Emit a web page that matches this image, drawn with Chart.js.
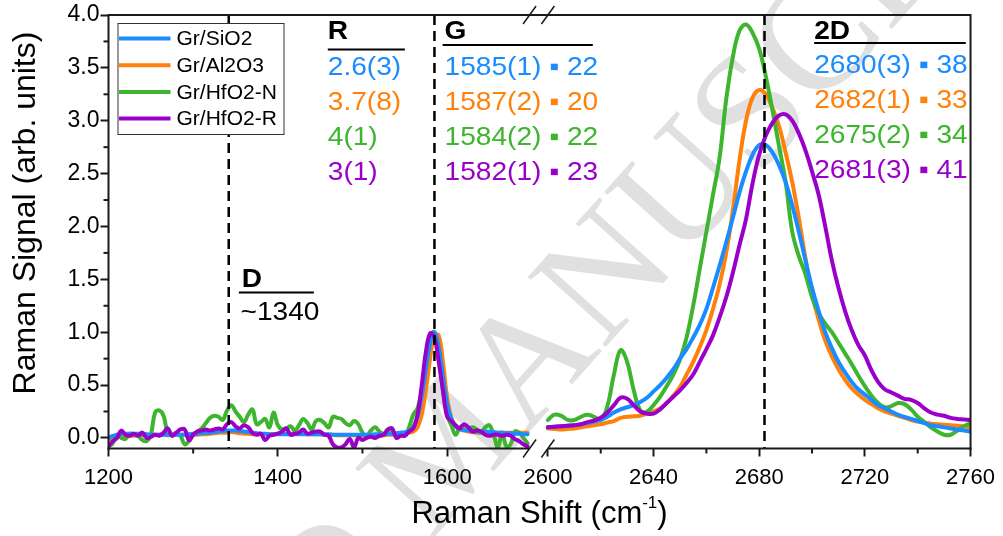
<!DOCTYPE html>
<html>
<head>
<meta charset="utf-8">
<title>Raman spectra of graphene on oxides</title>
<script src="https://cdn.jsdelivr.net/npm/chart.js@4.4.1/dist/chart.umd.min.js"></script>
<style>
  html, body { margin: 0; padding: 0; background: #fff; }
  canvas { display: block; }
</style>
</head>
<body>
<canvas id="ramanChart" width="1003" height="536"></canvas>
<script>
// Raman shift grids (cm-1) of the two windows of the broken axis
var lowShift = [
    1200, 1205, 1210, 1215, 1220, 1225, 1230, 1235, 1240, 1245,
    1250, 1255, 1260, 1265, 1270, 1275, 1280, 1285, 1290, 1295,
    1300, 1305, 1310, 1315, 1320, 1325, 1330, 1335, 1340, 1345,
    1350, 1355, 1360, 1365, 1370, 1375, 1380, 1385, 1390, 1395,
    1400, 1405, 1410, 1415, 1420, 1425, 1430, 1435, 1440, 1445,
    1450, 1455, 1460, 1465, 1470, 1475, 1480, 1485, 1490, 1495,
    1500, 1505, 1510, 1515, 1520, 1525, 1530, 1535, 1540, 1545,
    1550, 1555, 1560, 1565, 1570, 1575, 1580, 1585, 1590, 1595,
    1600, 1605, 1610, 1615, 1620, 1625, 1630, 1635, 1640, 1645,
    1650, 1655, 1660, 1665, 1670, 1675, 1680, 1685, 1690, 1695
];
var highShift = [
    2600, 2602.5, 2605, 2607.5, 2610, 2612.5, 2615, 2617.5, 2620, 2622.5,
    2625, 2627.5, 2630, 2632.5, 2635, 2637.5, 2640, 2642.5, 2645, 2647.5,
    2650, 2652.5, 2655, 2657.5, 2660, 2662.5, 2665, 2667.5, 2670, 2672.5,
    2675, 2677.5, 2680, 2682.5, 2685, 2687.5, 2690, 2692.5, 2695, 2697.5,
    2700, 2702.5, 2705, 2707.5, 2710, 2712.5, 2715, 2717.5, 2720, 2722.5,
    2725, 2727.5, 2730, 2732.5, 2735, 2737.5, 2740, 2742.5, 2745, 2747.5,
    2750, 2752.5, 2755, 2757.5, 2760
];

var sampleNames = ['Gr/SiO2', 'Gr/Al2O3', 'Gr/HfO2-N', 'Gr/HfO2-R'];
var sampleColors = ['#1a8cff', '#ff800a', '#3db52f', '#9a00c9'];

// signal normalised to the G band, D/G window
var sio2Low = [
    0.00, 0.02, 0.03, 0.04, 0.04, 0.04, 0.04, 0.04, 0.04, 0.035,
    0.03, 0.03, 0.03, 0.03, 0.03, 0.03, 0.03, 0.03, 0.03, 0.035,
    0.04, 0.04, 0.045, 0.05, 0.05, 0.055, 0.06, 0.065, 0.07, 0.07,
    0.07, 0.065, 0.06, 0.055, 0.05, 0.045, 0.04, 0.04, 0.035, 0.035,
    0.035, 0.035, 0.035, 0.035, 0.035, 0.035, 0.035, 0.035, 0.035, 0.035,
    0.035, 0.035, 0.035, 0.03, 0.03, 0.03, 0.03, 0.03, 0.03, 0.03,
    0.03, 0.03, 0.03, 0.035, 0.035, 0.035, 0.04, 0.04, 0.045, 0.05,
    0.055, 0.065, 0.1, 0.2, 0.4, 0.66, 0.9, 1.0, 0.86, 0.58,
    0.32, 0.18, 0.11, 0.085, 0.075, 0.07, 0.065, 0.06, 0.06, 0.06,
    0.055, 0.055, 0.05, 0.05, 0.045, 0.045, 0.04, 0.04, 0.035, 0.035
];
var al2o3Low = [
    -0.01, 0.0, 0.01, 0.02, 0.02, 0.02, 0.02, 0.025, 0.025, 0.03,
    0.03, 0.03, 0.03, 0.03, 0.025, 0.025, 0.03, 0.03, 0.03, 0.03,
    0.03, 0.03, 0.035, 0.035, 0.04, 0.045, 0.05, 0.05, 0.05, 0.055,
    0.05, 0.045, 0.04, 0.04, 0.035, 0.035, 0.035, 0.035, 0.035, 0.035,
    0.04, 0.04, 0.04, 0.04, 0.04, 0.04, 0.04, 0.035, 0.035, 0.035,
    0.035, 0.03, 0.03, 0.03, 0.025, 0.025, 0.025, 0.025, 0.025, 0.02,
    0.02, 0.02, 0.02, 0.02, 0.02, 0.025, 0.03, 0.03, 0.035, 0.04,
    0.045, 0.05, 0.06, 0.1, 0.22, 0.46, 0.76, 0.97, 0.97, 0.72,
    0.38, 0.19, 0.11, 0.08, 0.07, 0.06, 0.055, 0.05, 0.05, 0.05,
    0.05, 0.05, 0.05, 0.05, 0.05, 0.05, 0.05, 0.05, 0.05, 0.05
];
var hfo2nLow = [
    -0.08, -0.05, 0.03, 0.0, -0.01, 0.04, 0.03, 0.02, -0.02, -0.03,
    0.03, 0.24, 0.26, 0.21, 0.05, 0.03, 0.05, 0.02, -0.06, -0.03,
    0.03, 0.06, 0.09, 0.14, 0.19, 0.21, 0.2, 0.17, 0.26, 0.31,
    0.25, 0.2, 0.15, 0.22, 0.27, 0.13, 0.15, 0.18, 0.1, 0.24,
    0.12, 0.08, 0.09, 0.11, 0.07, 0.12, 0.18, 0.14, 0.08, 0.16,
    0.17, 0.14, 0.1, 0.2, 0.19, 0.18, 0.14, 0.12, 0.16, 0.13,
    0.05, 0.02, 0.07, 0.1, 0.06, 0.04, 0.06, 0.05, 0.03, 0.05,
    0.02, 0.1, 0.22, 0.28, 0.45, 0.75, 0.96, 1.0, 0.8, 0.45,
    0.22, 0.12, 0.03, 0.1, 0.12, 0.09, 0.1, 0.08, 0.05, 0.1,
    0.12, 0.03, -0.09, 0.05, -0.08, -0.06, 0.06, 0.05, 0.0, -0.05
];
var hfo2rLow = [
    -0.08, -0.03, 0.0, 0.07, 0.03, 0.02, 0.04, 0.02, 0.05, 0.0,
    0.01, 0.03, 0.02, 0.05, 0.09, 0.02, 0.05, 0.08, 0.08, -0.02,
    0.03, 0.06, 0.07, 0.08, 0.07, 0.08, 0.09, 0.08, 0.13, 0.15,
    0.11, 0.09, 0.12, 0.1, 0.05, 0.03, 0.04, -0.02, 0.02, 0.03,
    0.04, 0.06, 0.09, 0.03, 0.04, 0.05, 0.08, 0.04, 0.05, 0.06,
    0.06, 0.03, 0.02, -0.06, -0.09, -0.09, -0.06, -0.01, -0.09, 0.0,
    -0.02, 0.0, 0.01, 0.0, 0.02, 0.03, 0.08, 0.09, 0.0, 0.02,
    0.02, 0.06, 0.09, 0.22, 0.5, 0.82, 0.99, 0.95, 0.72, 0.45,
    0.2, 0.16, 0.12, 0.09, 0.13, 0.1, 0.06, 0.07, 0.06, 0.03,
    0.02, 0.03, 0.03, 0.02, 0.03, 0.02, -0.01, -0.03, -0.06, -0.08
];

// 2D window
var sio2High = [
    0.10, 0.105, 0.11, 0.115, 0.12, 0.13, 0.14, 0.155, 0.17, 0.2,
    0.24, 0.27, 0.29, 0.31, 0.34, 0.38, 0.44, 0.5, 0.57, 0.65,
    0.75, 0.84, 0.95, 1.07, 1.22, 1.42, 1.63, 1.85, 2.08, 2.32,
    2.52, 2.68, 2.77, 2.77, 2.7, 2.58, 2.42, 2.2, 1.95, 1.68,
    1.42, 1.2, 1.0, 0.85, 0.72, 0.62, 0.53, 0.46, 0.41, 0.36,
    0.31, 0.28, 0.25, 0.22, 0.2, 0.18, 0.16, 0.14, 0.12, 0.11,
    0.1, 0.09, 0.08, 0.07, 0.06
];
var al2o3High = [
    0.09, 0.085, 0.08, 0.085, 0.09, 0.1, 0.11, 0.12, 0.13, 0.145,
    0.16, 0.19, 0.2, 0.205, 0.21, 0.23, 0.25, 0.28, 0.33, 0.4,
    0.48, 0.6, 0.72, 0.86, 1.02, 1.22, 1.45, 1.75, 2.15, 2.62,
    3.0, 3.22, 3.29, 3.25, 3.12, 2.95, 2.7, 2.42, 2.08, 1.7,
    1.36, 1.12, 0.92, 0.77, 0.65, 0.55, 0.47, 0.41, 0.36, 0.32,
    0.28, 0.25, 0.23, 0.21, 0.19, 0.17, 0.155, 0.145, 0.135, 0.13,
    0.125, 0.12, 0.115, 0.11, 0.10
];
var hfo2nHigh = [
    0.17, 0.22, 0.21, 0.17, 0.17, 0.2, 0.22, 0.2, 0.17, 0.3,
    0.6, 0.83, 0.72, 0.45, 0.26, 0.25, 0.31, 0.39, 0.49, 0.6,
    0.74, 0.95, 1.25, 1.6, 1.95, 2.3, 2.65, 3.2, 3.6, 3.85,
    3.91, 3.83, 3.68, 3.42, 3.1, 2.76, 2.42, 1.95, 1.72, 1.55,
    1.33, 1.18, 1.08, 1.0, 0.9, 0.8, 0.7, 0.59, 0.49, 0.4,
    0.33, 0.29, 0.3, 0.33, 0.32, 0.27, 0.2, 0.15, 0.1, 0.06,
    0.03, 0.03, 0.07, 0.11, 0.14
];
var hfo2rHigh = [
    0.10, 0.105, 0.11, 0.115, 0.12, 0.13, 0.15, 0.165, 0.19, 0.24,
    0.31, 0.38, 0.37, 0.31, 0.25, 0.23, 0.23, 0.27, 0.33, 0.39,
    0.45, 0.52, 0.6, 0.72, 0.84, 0.97, 1.14, 1.33, 1.56, 1.82,
    2.07, 2.41, 2.68, 2.86, 2.98, 3.05, 3.06, 3.0, 2.88, 2.72,
    2.52, 2.3, 2.0, 1.68, 1.42, 1.2, 1.02, 0.88, 0.78, 0.64,
    0.53, 0.46, 0.43, 0.4, 0.37, 0.36, 0.33, 0.28, 0.24, 0.22,
    0.21, 0.19, 0.18, 0.175, 0.17
];

// fit results printed beside the bands
var ratioValue = ['2.6', '3.7', '4', '3'];
var ratioError = [3, 8, 1, 1];
var gPos = [1585, 1587, 1584, 1582];
var gErr = [1, 2, 2, 1];
var gFwhm = [22, 20, 22, 23];
var twoDPos = [2680, 2682, 2675, 2681];
var twoDErr = [3, 1, 2, 3];
var twoDFwhm = [38, 33, 34, 41];

// dashed guides at the D, G and 2D bands
var bandLines = [1342, 1585, 2682];

var xMajorTicks = [1200, 1400, 1600, 2600, 2640, 2680, 2720, 2760];
var xMinorTicks = [1300, 1500, 2620, 2660, 2700, 2740];
var yMajorTicks = [0, 0.5, 1, 1.5, 2, 2.5, 3, 3.5, 4];
var yMinorTicks = [0.25, 0.75, 1.25, 1.75, 2.25, 2.75, 3.25, 3.75];

// broken axis: the 2D window is put right after the D/G window, stretched
var LOW_END = 1695;
var HIGH_START = 2600;
var HIGH_END = 2760;
var BREAK_GAP = 24;
var HIGH_STRETCH = 3.12;

var fontFamily = "'Liberation Sans', Arial, Helvetica, sans-serif";

function toAxis(shift) {
    if (shift < 2000) return shift;
    return LOW_END + BREAK_GAP + (shift - HIGH_START) * HIGH_STRETCH;
}

function fromAxis(u) {
    if (u <= LOW_END + BREAK_GAP / 2) return u;
    return HIGH_START + (u - LOW_END - BREAK_GAP) / HIGH_STRETCH;
}

function buildSeries(low, high) {
    var pts = low.map(function (v, i) {
        return { x: toAxis(lowShift[i]), y: v };
    });
    // null point so the line stops at the break
    pts.push({ x: LOW_END + BREAK_GAP / 2, y: null });
    high.forEach(function (v, i) {
        pts.push({ x: toAxis(highShift[i]), y: v });
    });
    return pts;
}

var lowSets = [sio2Low, al2o3Low, hfo2nLow, hfo2rLow];
var highSets = [sio2High, al2o3High, hfo2nHigh, hfo2rHigh];
var drawOrder = [1, 3, 2, 0]; // purple on top, orange at the back

function drawWatermark(ctx) {
    ctx.save();
    ctx.translate(430, 542);
    ctx.rotate(-48 * Math.PI / 180);
    ctx.font = '160px "Liberation Serif", "DejaVu Serif", serif';
    ctx.fillStyle = '#e0e0e0';
    ctx.textBaseline = 'alphabetic';
    ctx.textAlign = 'right';
    ctx.fillText('ACCEPTED ', 0, 0);
    ctx.textAlign = 'left';
    ctx.fillText('MANUSCRIPT', 0, 0);
    ctx.restore();
}

function line(ctx, x1, y1, x2, y2) {
    ctx.beginPath();
    ctx.moveTo(x1, y1);
    ctx.lineTo(x2, y2);
    ctx.stroke();
}

// text a little wider than the font draws it
function wideText(ctx, text, x, y) {
    ctx.save();
    ctx.translate(x, y);
    ctx.scale(1.08, 1);
    ctx.fillText(text, 0, 0);
    ctx.restore();
}

var decorPlugin = {
    id: 'ramanDecor',
    beforeDraw: function (chart) {
        drawWatermark(chart.ctx);
    },
    afterDatasetsDraw: function (chart) {
        var ctx = chart.ctx, area = chart.chartArea, xs = chart.scales.x;
        ctx.save();
        ctx.strokeStyle = '#000';
        ctx.lineWidth = 2.5;
        ctx.setLineDash([10, 6]);
        bandLines.forEach(function (s) {
            var x = xs.getPixelForValue(toAxis(s));
            line(ctx, x, area.top, x, area.bottom);
        });
        ctx.restore();
    },
    afterDraw: function (chart) {
        var ctx = chart.ctx, area = chart.chartArea;
        var xs = chart.scales.x, ys = chart.scales.y;
        function X(s) { return xs.getPixelForValue(toAxis(s)); }
        function Y(v) { return ys.getPixelForValue(v); }

        ctx.save();
        ctx.strokeStyle = '#1a1a1a';
        ctx.lineWidth = 2;
        ctx.lineCap = 'butt';

        // frame, bottom edge interrupted at the break
        var leftEnd = X(LOW_END) + 2;
        var rightStart = X(HIGH_START);
        line(ctx, area.left, area.top, area.right, area.top);
        line(ctx, area.left, area.top - 1, area.left, area.bottom + 1);
        line(ctx, area.right, area.top - 1, area.right, area.bottom + 1);
        line(ctx, area.left - 1, area.bottom, leftEnd, area.bottom);
        line(ctx, rightStart, area.bottom, area.right + 1, area.bottom);

        // break marks
        ctx.lineWidth = 1.5;
        [leftEnd, rightStart].forEach(function (cx) {
            line(ctx, cx - 6.5, area.bottom + 9, cx + 6.5, area.bottom - 9);
            line(ctx, cx - 6.5, area.top + 9, cx + 6.5, area.top - 9);
        });

        // minor ticks
        ctx.lineWidth = 2;
        xMinorTicks.forEach(function (s) {
            var x = X(s);
            line(ctx, x, area.bottom, x, area.bottom + 5);
        });
        yMinorTicks.forEach(function (v) {
            var y = Y(v);
            line(ctx, area.left - 5, y, area.left, y);
        });

        // band headers with underline
        ctx.fillStyle = '#000';
        ctx.textAlign = 'left';
        ctx.textBaseline = 'alphabetic';
        ctx.font = 'bold 26px ' + fontFamily;
        wideText(ctx, 'R', X(1459), Y(3.773));
        wideText(ctx, 'G', X(1597), Y(3.773));
        wideText(ctx, '2D', X(2700.8), Y(3.773));
        wideText(ctx, 'D', X(1357.5), Y(1.427));
        ctx.lineWidth = 2;
        ctx.strokeStyle = '#000';
        line(ctx, X(1459), Y(3.674), X(1550), Y(3.674));
        line(ctx, X(1594.7), Y(3.716), X(2617), Y(3.716));
        line(ctx, X(2700.8), Y(3.735), X(2758.2), Y(3.735));
        line(ctx, X(1354), Y(1.375), X(1442.5), Y(1.375));
        ctx.font = '26px ' + fontFamily;
        wideText(ctx, '~1340', X(1356), Y(1.115));

        // per-sample fit values
        for (var i = 0; i < sampleNames.length; i++) {
            ctx.fillStyle = sampleColors[i];
            wideText(ctx, ratioValue[i] + '(' + ratioError[i] + ')', X(1459), Y(3.433 - i * 0.331));
            wideText(ctx, gPos[i] + '(' + gErr[i] + ') \u25AA ' + gFwhm[i], X(1597), Y(3.433 - i * 0.331));
            wideText(ctx, twoDPos[i] + '(' + twoDErr[i] + ') \u25AA ' + twoDFwhm[i], X(2700.8), Y(3.451 - i * 0.331));
        }

        // legend box
        var lx = area.left + 9, ly = area.top + 8;
        ctx.fillStyle = '#fff';
        ctx.fillRect(lx, ly, 166, 111);
        ctx.strokeStyle = '#333';
        ctx.lineWidth = 1;
        ctx.strokeRect(lx + 0.5, ly + 0.5, 166, 111);
        ctx.font = '21px ' + fontFamily;
        ctx.textBaseline = 'middle';
        chart.data.datasets.forEach(function (ds, k) {
            var y = ly + 15.5 + k * 26.7;
            ctx.strokeStyle = ds.borderColor;
            ctx.lineWidth = 4;
            line(ctx, lx + 1.5, y, lx + 53, y);
            ctx.fillStyle = '#000';
            ctx.fillText(ds.label, lx + 59, y + 1);
        });

        // axis titles, x one with a superscript
        ctx.fillStyle = '#000';
        ctx.textBaseline = 'alphabetic';
        ctx.save();
        ctx.translate(35, 213);
        ctx.rotate(-Math.PI / 2);
        ctx.textAlign = 'center';
        ctx.font = '32px ' + fontFamily;
        ctx.fillText('Raman Signal (arb. units)', 0, 0);
        ctx.restore();

        var base = area.bottom + 74.5;
        var t1 = 'Raman Shift (cm', t2 = '-1', t3 = ')';
        ctx.textAlign = 'left';
        ctx.font = '31px ' + fontFamily;
        var w1 = ctx.measureText(t1).width, w3 = ctx.measureText(t3).width;
        ctx.font = '17px ' + fontFamily;
        var w2 = ctx.measureText(t2).width;
        var x0 = (area.left + area.right) / 2 - (w1 + w2 + w3) / 2;
        ctx.font = '31px ' + fontFamily;
        ctx.fillText(t1, x0, base);
        ctx.fillText(t3, x0 + w1 + w2, base);
        ctx.font = '17px ' + fontFamily;
        ctx.fillText(t2, x0 + w1, base - 15);
        ctx.restore();
    }
};

Chart.defaults.font.family = fontFamily;
Chart.defaults.color = '#000';

new Chart(document.getElementById('ramanChart').getContext('2d'), {
    type: 'line',
    data: {
        datasets: sampleNames.map(function (name, i) {
            return {
                label: name,
                data: buildSeries(lowSets[i], highSets[i]),
                borderColor: sampleColors[i],
                borderWidth: 4,
                pointRadius: 0,
                tension: 0.4,
                spanGaps: false,
                fill: false,
                order: drawOrder[i],
                borderJoinStyle: 'round',
                borderCapStyle: 'round'
            };
        })
    },
    options: {
        responsive: false,
        animation: false,
        devicePixelRatio: 1,
        layout: {
            padding: { left: 0, right: 31, top: 15, bottom: 0 }
        },
        plugins: {
            legend: { display: false },
            tooltip: { enabled: false }
        },
        scales: {
            x: {
                type: 'linear',
                min: 1200,
                max: toAxis(HIGH_END),
                border: { display: false },
                grid: {
                    drawOnChartArea: false,
                    drawTicks: true,
                    tickLength: 8,
                    tickWidth: 2,
                    tickColor: '#1a1a1a'
                },
                ticks: {
                    autoSkip: false,
                    maxRotation: 0,
                    padding: 8,
                    font: { size: 22 },
                    callback: function (v) {
                        return String(Math.round(fromAxis(v)));
                    }
                },
                afterBuildTicks: function (scale) {
                    scale.ticks = xMajorTicks.map(function (s) {
                        return { value: toAxis(s) };
                    });
                },
                afterFit: function (scale) {
                    scale.height = 87.5;
                }
            },
            y: {
                min: -0.1,
                max: 4.0,
                border: { display: false },
                grid: {
                    drawOnChartArea: false,
                    drawTicks: true,
                    tickLength: 8,
                    tickWidth: 2,
                    tickColor: '#1a1a1a'
                },
                ticks: {
                    padding: 1,
                    font: { size: 23 },
                    callback: function (v) {
                        return v.toFixed(1);
                    }
                },
                afterBuildTicks: function (scale) {
                    scale.ticks = yMajorTicks.map(function (v) {
                        return { value: v };
                    });
                },
                afterFit: function (scale) {
                    scale.width = 108.5;
                }
            }
        }
    },
    plugins: [decorPlugin]
});
</script>
</body>
</html>
